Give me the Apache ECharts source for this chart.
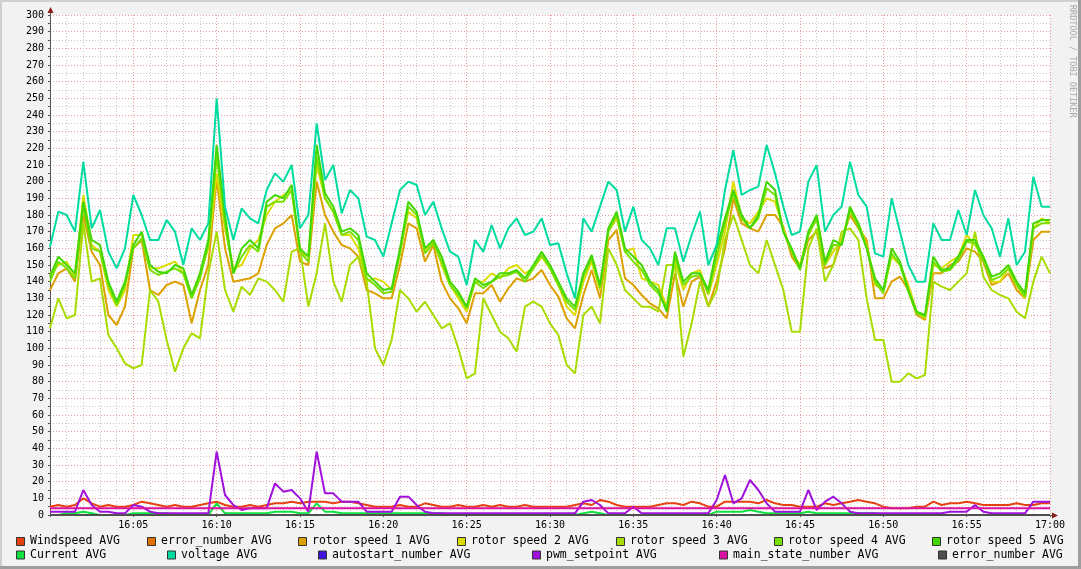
<!DOCTYPE html>
<html><head><meta charset="utf-8">
<script src="https://cdn.jsdelivr.net/npm/echarts/dist/echarts.min.js"></script>
<style>html,body{margin:0;padding:0;background:#f2f2f2}#c{width:1081px;height:569px}</style>
</head><body><div id="c"></div>
<script>
// sample grid: one reading every 30 s from 16:00 to 17:00 (minutes after 16:00)
const sampleMinutes = Array.from({length:121},(_,i)=>i*0.5);
const timeLabels = ['16:00','16:05','16:10','16:15','16:20','16:25','16:30','16:35','16:40','16:45','16:50','16:55','17:00'];

const windspeed = [5,6,5,6,10,7,5,6,5,5, 6,8,7,6,5,6,5,5,6,7, 8,6,5,5,6,5,6,7,7,8, 7,8,8,8,7,8,8,7,6,5,
 5,5,6,5,5,7,6,5,5,6, 5,5,6,5,6,5,5,6,5,5, 5,5,5,6,7,6,9,8,6,5, 5,5,5,6,7,7,6,8,7,5,
 5,8,8,8,8,7,9,7,6,6, 5,5,5,7,6,7,8,9,8,7, 5,4,4,4,5,5,8,6,7,7, 8,7,6,6,6,6,7,6,6,7,7];
const rotor1 = [135,145,148,140,180,158,150,120,114,125, 160,165,135,132,138,140,138,115,135,150,
 202,160,140,141,142,145,162,172,175,180, 152,150,200,180,170,162,160,155,135,133,
 130,130,150,175,172,152,162,140,130,124, 115,133,133,138,128,136,142,140,142,147,
 138,131,118,112,132,147,130,165,171,142, 138,132,127,124,118,145,125,140,143,125,
 140,160,190,175,172,170,180,180,173,155, 148,165,170,148,150,165,180,172,165,130,
 130,140,143,135,120,117,145,145,150,152, 160,158,152,138,140,145,135,130,165,170,170];
const rotor2 = [145,150,152,143,192,162,158,135,125,135, 168,168,148,148,150,152,145,130,145,160,
 205,172,148,150,160,165,180,188,192,195, 158,155,210,190,182,168,168,160,140,142,
 140,135,158,182,178,158,165,150,138,130, 122,140,140,145,142,148,150,145,148,155,
 148,138,125,120,140,152,135,170,178,158, 160,142,140,138,125,152,135,145,147,132,
 150,170,200,178,175,182,190,188,172,158, 150,168,178,150,158,165,182,175,162,138,
 135,155,150,138,122,118,150,148,152,155, 168,162,155,140,140,148,138,130,172,178,175];
const rotor3 = [112,130,118,120,175,140,142,108,100,91, 88,90,135,128,105,86,100,109,106,145,
 170,135,122,137,132,142,140,135,128,158, 160,125,145,175,140,128,150,155,140,100,
 90,105,135,130,122,128,120,112,115,100, 82,85,130,120,110,106,98,125,128,125,
 115,108,90,85,120,125,115,160,150,135, 130,125,125,122,150,150,95,115,140,125,
 135,165,180,165,150,145,165,150,135,110, 110,160,172,140,150,170,172,165,130,105,
 105,80,80,85,82,84,140,137,135,140, 145,170,143,135,132,130,122,118,140,155,145];
const rotor4 = [140,152,148,142,185,160,158,138,126,138, 160,166,147,144,146,148,145,130,142,162,
 215,175,145,155,162,158,185,188,188,195, 158,152,215,190,182,168,170,165,142,138,
 133,134,157,185,180,157,163,152,138,132, 124,140,136,140,143,144,146,140,148,156,
 148,138,128,123,143,154,136,170,180,158, 152,147,138,133,124,155,138,143,144,133,
 155,175,193,178,172,178,196,192,170,158, 147,168,178,150,162,162,183,173,160,140,
 133,157,150,134,121,119,152,146,147,153, 164,163,153,141,143,148,138,131,172,175,175];
const rotor5 = [143,155,150,145,188,165,162,140,128,140, 162,170,150,146,145,150,148,132,145,165,
 222,180,145,160,165,160,188,192,190,198, 160,155,222,193,185,170,172,168,145,140,
 135,136,160,188,182,160,165,155,140,134, 125,142,138,140,145,145,147,142,150,158,
 150,140,130,125,145,156,138,172,182,160, 155,150,140,135,122,158,140,145,145,135,
 160,178,195,180,172,180,200,195,170,160, 148,170,180,152,165,162,185,175,160,142,
 135,160,152,135,122,120,155,147,148,155, 165,165,155,143,145,150,140,133,175,177,177];
const current = [0,0,1,1,2,1,0,0,0,0, 1,1,1,1,1,0,0,0,0,0, 7,1,1,1,1,1,1,2,2,2, 1,1,7,2,2,1,1,1,1,1,
 1,1,1,1,1,1,1,1,0,0, 0,0,0,0,0,0,0,0,0,0, 0,0,0,0,1,2,1,0,0,0, 0,0,0,0,0,0,0,0,0,0,
 2,2,2,2,3,2,1,1,1,1, 1,2,1,1,1,1,1,1,1,1, 0,0,0,0,0,0,0,0,0,0, 0,0,0,0,0,0,0,0,0,0,0];
const voltage = [161,182,180,170,212,172,183,158,148,160, 192,180,165,165,177,170,150,172,165,175,
 250,185,165,184,178,175,195,205,200,210, 172,180,235,201,210,181,195,190,167,165,
 155,175,195,200,198,180,188,172,158,155, 138,165,158,174,160,172,178,168,170,178,
 162,163,145,130,178,170,185,200,195,170, 185,165,160,150,172,172,152,168,182,150,
 162,195,219,192,195,197,222,205,185,168, 170,200,210,170,180,185,212,192,185,157,
 155,190,170,150,140,140,175,165,165,183, 168,195,180,172,155,178,150,158,203,185,185];
const pwmSetpoint = [2,2,2,2,15,6,2,2,1,1, 6,5,2,1,1,1,1,1,1,1, 38,12,6,3,4,4,4,19,14,15, 10,2,38,13,13,8,8,8,2,2,
 2,2,11,11,6,2,1,1,1,1, 1,1,1,1,1,1,1,1,1,1, 1,1,1,1,8,9,6,1,1,1, 5,1,1,1,1,1,1,1,1,1,
 9,24,7,10,21,15,7,2,2,2, 2,15,3,8,11,7,2,1,1,1, 1,1,1,1,1,1,1,1,2,2, 2,6,2,1,1,1,1,1,8,8,8];
// flat series: endpoints only
const flatMinutes = [0,60];
const errorNumberA = [0,0];
const autostart = [0,0];
const mainState = [4,4];
const errorNumberB = [0,0];

const C = {
  wind:'#e64010', err1:'#e07000', r1:'#dca000', r2:'#dcdc00', r3:'#a8dc00', r4:'#78e000', r5:'#40d800',
  cur:'#10e040', volt:'#00dca0', auto:'#4010dc', pwm:'#a010dc', main:'#dc10a0', err2:'#505050'
};
function mk(name,color,values,times){
  times = times || sampleMinutes;
  return {name,type:'line',data:times.map((t,i)=>[t,values[i]]),showSymbol:false,symbol:'none',
    lineStyle:{width:2,color},itemStyle:{color},animation:false,emphasis:{disabled:true}};
}
const series = [
  mk('Windspeed AVG',C.wind,windspeed),
  mk('error_number AVG',C.err1,errorNumberA,flatMinutes),
  mk('rotor speed 1 AVG',C.r1,rotor1),
  mk('rotor speed 2 AVG',C.r2,rotor2),
  mk('rotor speed 3 AVG',C.r3,rotor3),
  mk('rotor speed 4 AVG',C.r4,rotor4),
  mk('rotor speed 5 AVG',C.r5,rotor5),
  mk('Current AVG',C.cur,current),
  mk('voltage AVG',C.volt,voltage),
  mk('autostart_number AVG',C.auto,autostart,flatMinutes),
  mk('pwm_setpoint AVG',C.pwm,pwmSetpoint),
  mk('main_state_number AVG',C.main,mainState,flatMinutes),
  mk('error_number AVG',C.err2,errorNumberB,flatMinutes)
];

const legendRows = [
  [['Windspeed AVG',C.wind,16],['error_number AVG',C.err1,147],['rotor speed 1 AVG',C.r1,298],['rotor speed 2 AVG',C.r2,457],['rotor speed 3 AVG',C.r3,616],['rotor speed 4 AVG',C.r4,774],['rotor speed 5 AVG',C.r5,932]],
  [['Current AVG',C.cur,16],['voltage AVG',C.volt,167],['autostart_number AVG',C.auto,318],['pwm_setpoint AVG',C.pwm,532],['main_state_number AVG',C.main,719],['error_number AVG',C.err2,938]]
];
const FONT = '"DejaVu Sans Mono", monospace';
const graphic = [];
legendRows.forEach((row,ri)=>{
  const yc = ri===0 ? 541.5 : 555;
  row.forEach(([label,color,x])=>{
    graphic.push({type:'rect',shape:{x:x+0.5,y:yc-4,width:8,height:8},style:{fill:color,stroke:'#333',lineWidth:1},silent:true});
    graphic.push({type:'text',x:x+14,y:yc,style:{text:label,fill:'#000',font:'11.5px '+FONT,textAlign:'left',textVerticalAlign:'middle'},silent:true});
  });
});
// axis extensions and arrows
graphic.push({type:'line',shape:{x1:50.5,y1:15,x2:50.5,y2:11},style:{stroke:'#555',lineWidth:1},silent:true});
graphic.push({type:'line',shape:{x1:1050,y1:515.5,x2:1054,y2:515.5},style:{stroke:'#555',lineWidth:1},silent:true});
graphic.push({type:'polygon',shape:{points:[[47.5,13],[53.5,13],[50.5,7]]},style:{fill:'#8b1a1a'},silent:true});
graphic.push({type:'polygon',shape:{points:[[1052,512.5],[1052,518.5],[1058,515.5]]},style:{fill:'#8b1a1a'},silent:true});
// watermark
graphic.push({type:'text',x:1077,y:5,rotation:-Math.PI/2,style:{text:'RRDTOOL / TOBI OETIKER',fill:'#a8a8a8',font:'8.5px '+FONT,textAlign:'left',textVerticalAlign:'top'},silent:true});
// frame shading
graphic.push({type:'rect',shape:{x:0,y:0,width:1081,height:2},style:{fill:'#d0d0d0'},silent:true});
graphic.push({type:'rect',shape:{x:0,y:0,width:2,height:569},style:{fill:'#d0d0d0'},silent:true});
graphic.push({type:'rect',shape:{x:0,y:566,width:1081,height:3},style:{fill:'#9e9e9e'},silent:true});
graphic.push({type:'rect',shape:{x:1078,y:0,width:3,height:569},style:{fill:'#9e9e9e'},silent:true});

const chart = echarts.init(document.getElementById('c'),null,{renderer:'canvas'});
chart.setOption({
  backgroundColor:'#f2f2f2',
  animation:false,
  textStyle:{fontFamily:FONT},
  grid:{left:50,right:31,top:15,bottom:54,show:true,backgroundColor:'#ffffff',borderWidth:0},
  xAxis:{type:'value',min:0,max:60,interval:5,
    axisLine:{show:true,onZero:false,lineStyle:{color:'#555',width:1}},
    axisTick:{show:true,length:2,lineStyle:{color:'#555'}},
    minorTick:{show:false,splitNumber:5},
    axisLabel:{formatter:v=>v===0?'':timeLabels[Math.round(v/5)],color:'#000',fontFamily:FONT,fontSize:10,margin:5},
    splitLine:{show:true,lineStyle:{color:'rgba(230,120,120,0.75)',type:[1,2],width:1}},
    minorSplitLine:{show:true,lineStyle:{color:'#c8c8c8',type:[1,2],width:1}}
  },
  yAxis:{type:'value',min:0,max:300,interval:10,
    axisLine:{show:true,lineStyle:{color:'#555',width:1}},
    axisTick:{show:true,length:2,lineStyle:{color:'#555'}},
    minorTick:{show:true,splitNumber:2,length:2,lineStyle:{color:'#555'}},
    axisLabel:{color:'#000',fontFamily:FONT,fontSize:10,margin:6},
    splitLine:{show:true,lineStyle:{color:'rgba(230,120,120,0.75)',type:[1,2],width:1}},
    minorSplitLine:{show:true,lineStyle:{color:'#c8c8c8',type:[1,2],width:1}}
  },
  series,
  graphic
});
</script></body></html>
